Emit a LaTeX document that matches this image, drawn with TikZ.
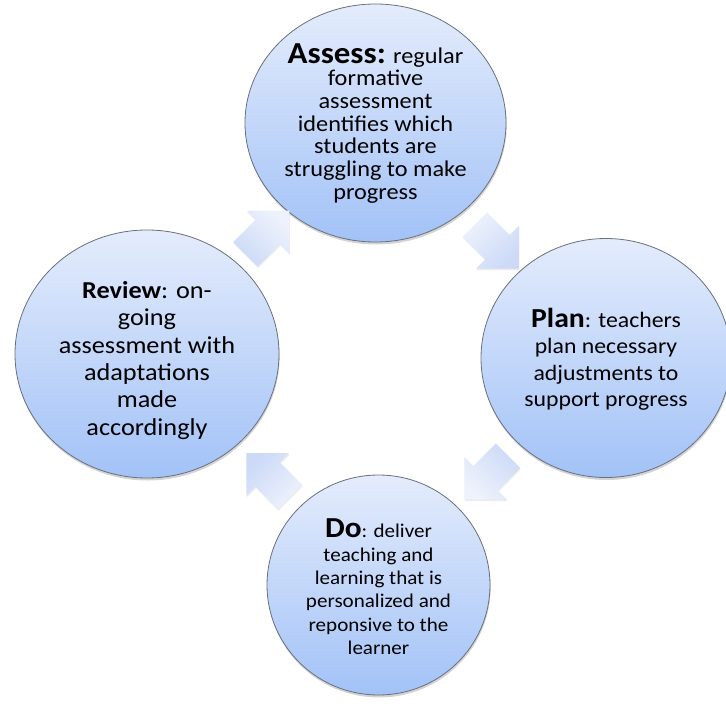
\documentclass[tikz,border=0pt]{standalone}
\usepackage{fontspec}
\usepackage{graphicx}
\setmainfont{Carlito}
\usetikzlibrary{shapes.geometric,shapes.arrows,shadows}
\definecolor{bubtop}{RGB}{228,236,252}
\definecolor{bubbot}{RGB}{162,194,247}
\definecolor{bubedge}{RGB}{105,112,125}
\definecolor{arrtop}{RGB}{238,242,252}
\definecolor{arrbot}{RGB}{204,218,247}
\newcommand\bubtext[3]{\raisebox{#1}[20pt][20pt]{\makebox[100pt]{\scalebox{1.08}[1]{#2\begin{tabular}{@{}c@{}}#3\end{tabular}}}}}
\begin{document}
\begin{tikzpicture}[x=1pt,y=1pt,
  bubble/.style={ellipse, draw=bubedge, line width=0.8pt, top color=bubtop, bottom color=bubbot,
    inner sep=0pt, text=black,
    drop shadow={shadow xshift=0.6pt, shadow yshift=-2.5pt, opacity=0.35}},
  flowarrow/.style={single arrow, minimum height=62pt, minimum width=0pt,
    inner xsep=0pt, inner ysep=17pt,
    single arrow head extend=13pt, single arrow tip angle=90, draw=none,
    top color=arrtop, bottom color=arrbot,
    drop shadow={shadow xshift=0.5pt, shadow yshift=-1.5pt, opacity=0.16}}]
\useasboundingbox (0,0) rectangle (726,-704);

\node[bubble, minimum width=261pt, minimum height=238pt] (assess) at (375.5,-123)
  {\bubtext{-7pt}{\fontsize{22.5}{22.7}\selectfont}{{\fontsize{30.5}{30}\selectfont\bfseries Assess:} regular\\
   formative\\ assessment\\ identifies which\\ students are\\ struggling to make\\ progress}};

\node[bubble, minimum width=250pt, minimum height=239pt] (plan) at (606,-358)
  {\bubtext{-8.5pt}{\fontsize{22}{26.5}\selectfont}{{\fontsize{27.5}{28}\selectfont\bfseries Plan}: teachers\\ plan necessary\\ adjustments to\\ support progress}};

\node[bubble, minimum width=264pt, minimum height=248pt] (review) at (147,-354)
  {\bubtext{-13.5pt}{\fontsize{24.3}{27.4}\selectfont}{\textbf{Review}: on-\\ going\\ assessment with\\ adaptations\\ made\\ accordingly}};

\node[bubble, minimum width=223pt, minimum height=220pt] (do) at (378.5,-585)
  {\bubtext{-10.4pt}{\fontsize{19.5}{23.4}\selectfont}{{\fontsize{29}{29}\selectfont\bfseries Do}: deliver\\ teaching and\\ learning that is\\ personalized and\\ reponsive to the\\ learner}};

\path (assess.center) -- node[flowarrow, rotate=-45, shading angle=45] (a1) {} (plan.center);
\path (plan.center) -- node[flowarrow, rotate=-135, shading angle=135] (a2) {} (do.center);
\path (do.center) -- node[pos=0.45, flowarrow, rotate=135, shading angle=-135] (a3) {} (review.center);
\path (review.center) -- node[flowarrow, rotate=45, shading angle=-45] (a4) {} (assess.center);
\end{tikzpicture}
\end{document}
